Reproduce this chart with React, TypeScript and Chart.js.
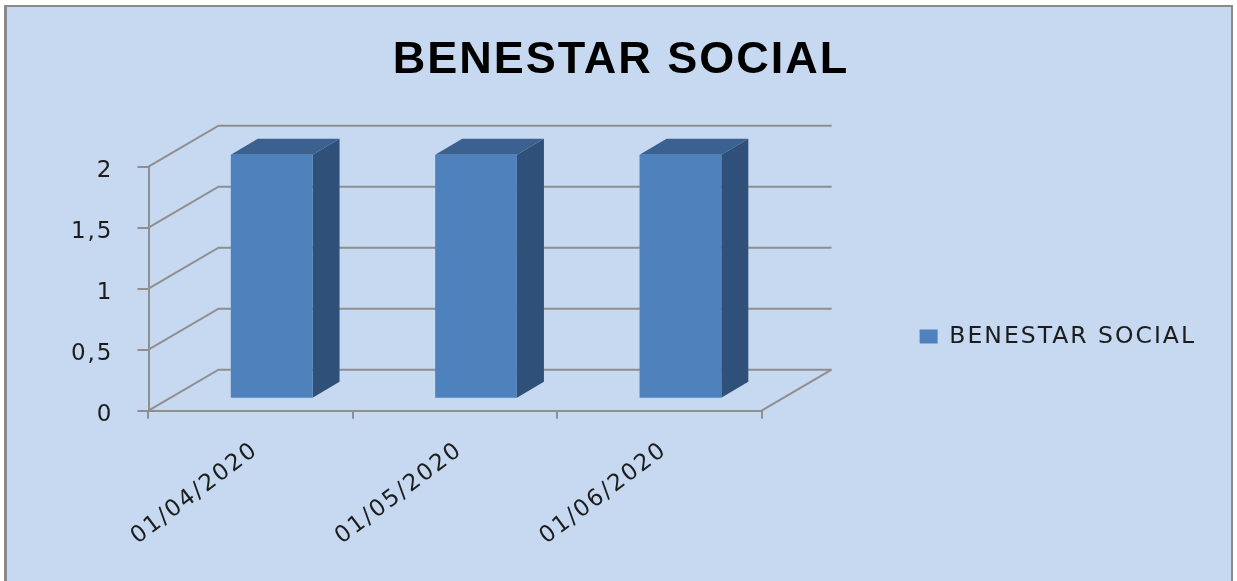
import React, { useEffect, useRef } from "react";
import { Chart, registerables } from "chart.js";

Chart.register(...registerables);

const categories = ["01/04/2020", "01/05/2020", "01/06/2020"];
const seriesName = "BENESTAR SOCIAL";
const seriesValues = [2, 2, 2];
const yTickLabels: Record<string, string> = { "0": "0", "0.5": "0,5", "1": "1", "1.5": "1,5", "2": "2" };

const GRID = "#8f8f8f";
const TEXT = "#1c1c1c";
const WALL = { dx: 70, dy: -41 };
const BAR_SHIFT = { dx: 21, dy: -12 };
const BAR_DEPTH = { dx: 27, dy: -16 };
const LETTER_SPACING = "2px";

function shiftLabels(chart: any, scale: any, dx: number, dy: number) {
  if (scale.__shifted) return;
  scale.__shifted = true;
  const draw = scale.drawLabels.bind(scale);
  scale.drawLabels = (area: any) => {
    chart.ctx.save();
    chart.ctx.translate(dx, dy);
    draw(area);
    chart.ctx.restore();
  };
}

const scene = {
  id: "scene",
  beforeLayout(chart: any) {
    // The reference's text is stretched horizontally; letter spacing gives the same width.
    chart.ctx.letterSpacing = LETTER_SPACING;
  },
  beforeDraw(chart: any) {
    const { ctx, width, height } = chart;
    ctx.letterSpacing = LETTER_SPACING;
    ctx.save();
    ctx.fillStyle = "#ffffff";
    ctx.fillRect(0, 0, width, height);
    ctx.fillStyle = "#8a8a8a";
    ctx.fillRect(4, 5, 1229, height);
    ctx.fillStyle = "#C6D9F1";
    ctx.fillRect(7, 7, 1224, height);
    ctx.restore();
  },
  afterLayout(chart: any) {
    chart.legend.top += 92;
    shiftLabels(chart, chart.scales.y, 0, 4);
    shiftLabels(chart, chart.scales.x, 5, 0);
  },
  beforeDatasetsDraw(chart: any) {
    const { ctx, chartArea, scales } = chart;
    const { left, right, bottom } = chartArea;
    ctx.save();
    ctx.strokeStyle = GRID;
    ctx.lineWidth = 2;
    ctx.beginPath();
    for (const t of scales.y.ticks) {
      const y = scales.y.getPixelForValue(t.value);
      ctx.moveTo(left, y);
      ctx.lineTo(left + WALL.dx, y + WALL.dy);
      ctx.lineTo(right + WALL.dx, y + WALL.dy);
    }
    ctx.moveTo(right, bottom);
    ctx.lineTo(right + WALL.dx, bottom + WALL.dy);
    ctx.stroke();
    const meta = chart.getDatasetMeta(0);
    for (const bar of meta.data) {
      const l = bar.x - bar.width / 2 + BAR_SHIFT.dx;
      const r = bar.x + bar.width / 2 + BAR_SHIFT.dx;
      const t = bar.y + BAR_SHIFT.dy;
      const b = bar.base + BAR_SHIFT.dy;
      ctx.fillStyle = "#2F5179";
      ctx.beginPath();
      ctx.moveTo(r, t);
      ctx.lineTo(r + BAR_DEPTH.dx, t + BAR_DEPTH.dy);
      ctx.lineTo(r + BAR_DEPTH.dx, b + BAR_DEPTH.dy);
      ctx.lineTo(r, b);
      ctx.closePath();
      ctx.fill();
      ctx.fillStyle = "#3A6190";
      ctx.beginPath();
      ctx.moveTo(l, t);
      ctx.lineTo(l + BAR_DEPTH.dx, t + BAR_DEPTH.dy);
      ctx.lineTo(r + BAR_DEPTH.dx, t + BAR_DEPTH.dy);
      ctx.lineTo(r, t);
      ctx.closePath();
      ctx.fill();
    }
    ctx.restore();
    ctx.save();
    ctx.translate(BAR_SHIFT.dx, BAR_SHIFT.dy);
  },
  afterDatasetsDraw(chart: any) {
    chart.ctx.restore();
  },
};

export default function App() {
  const ref = useRef<HTMLCanvasElement | null>(null);
  useEffect(() => {
    document.body.style.margin = "0";
    const canvas = ref.current as HTMLCanvasElement;
    const chart = new Chart(canvas, {
      type: "bar",
      data: {
        labels: categories,
        datasets: [
          {
            label: seriesName,
            data: seriesValues,
            backgroundColor: "#4F81BD",
            barPercentage: 0.4,
            categoryPercentage: 1,
            clip: false,
          } as any,
        ],
      },
      options: {
        responsive: false,
        animation: false,
        layout: { padding: { left: 36, right: 31, top: 0, bottom: 0 } },
        plugins: {
          tooltip: { enabled: false },
          title: {
            display: true,
            text: "BENESTAR SOCIAL",
            color: "#000000",
            font: { family: "Liberation Sans", size: 45, weight: "bold" },
            padding: { top: 33.5, bottom: 79.2 },
          },
          legend: {
            position: "right",
            maxWidth: 340,
            labels: {
              boxWidth: 18,
              boxHeight: 14,
              color: TEXT,
              font: { family: "DejaVu Sans", size: 23.5 },
              padding: 8,
            },
          },
        },
        scales: {
          x: {
            border: { color: GRID, width: 2 },
            grid: { drawOnChartArea: false, tickLength: 8, color: GRID, lineWidth: 2 },
            ticks: {
              color: TEXT,
              font: { family: "DejaVu Sans", size: 23 },
              minRotation: 37,
              maxRotation: 37,
              padding: 18,
            },
            afterFit(s: any) {
              s.height = 170.3;
            },
          },
          y: {
            min: 0,
            max: 2,
            border: { color: GRID, width: 2 },
            grid: { drawOnChartArea: false, tickLength: 11, color: GRID, lineWidth: 2 },
            ticks: {
              stepSize: 0.5,
              color: TEXT,
              font: { family: "DejaVu Sans", size: 23 },
              padding: 24,
              callback: (v: any) => yTickLabels[String(v)],
            },
            afterFit(s: any) {
              s.width = 112.5;
            },
          },
          spacer: {
            type: "linear",
            position: "right",
            display: true,
            border: { display: false },
            grid: { display: false },
            ticks: { display: false },
            afterFit(s: any) {
              s.width = 150;
            },
          },
        },
      } as any,
      plugins: [scene],
    } as any);
    return () => chart.destroy();
  }, []);
  return (
    <div style={{ position: "fixed", left: 0, top: 0 }}>
      <canvas ref={ref} width={1237} height={581} style={{ display: "block" }} />
    </div>
  );
}
